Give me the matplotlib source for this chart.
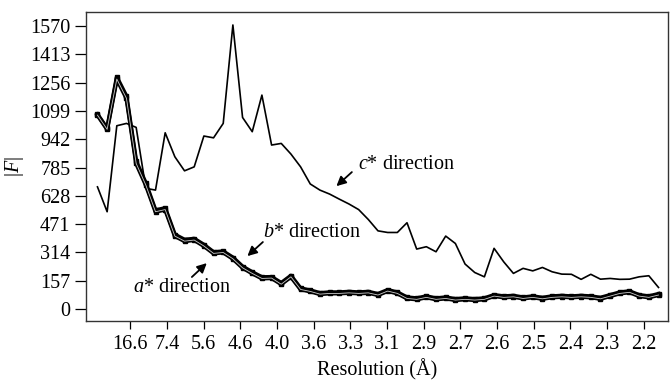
import numpy as np
import matplotlib
matplotlib.use('Agg')
import matplotlib.pyplot as plt

plt.rcParams['font.family'] = 'Liberation Serif'
plt.rcParams['mathtext.fontset'] = 'custom'
plt.rcParams['mathtext.rm'] = 'Liberation Serif'
plt.rcParams['mathtext.it'] = 'Liberation Serif:italic'

# |F| along the three reciprocal directions, one value per resolution shell
c_dir = [678, 540, 1017, 1030, 1008, 670, 660, 978, 845, 767,
         789, 960, 950, 1030, 1576, 1063, 984, 1187, 910, 919,
         860, 789, 694, 660, 638, 610, 583, 552, 497, 434,
         425, 425, 479, 333, 346, 318, 405, 364, 250, 203,
         179, 337, 262, 198, 226, 212, 231, 207, 194, 193,
         165, 193, 166, 170, 165, 166, 179, 185, 120]
a_dir = [1076, 997, 1276, 1169, 808, 688, 540, 552, 405, 377,
         383, 350, 309, 314, 279, 229, 198, 170, 172, 138,
         179, 109, 98, 83, 87, 87, 90, 87, 90, 78,
         100, 87, 59, 54, 65, 54, 59, 50, 54, 50,
         54, 72, 65, 68, 59, 65, 57, 65, 68, 65,
         68, 65, 57, 72, 87, 93, 72, 65, 78]
b_dir = [1080, 1002, 1286, 1180, 820, 698, 548, 560, 413, 385,
         390, 357, 316, 320, 286, 236, 205, 177, 178, 145,
         185, 115, 104, 89, 93, 93, 96, 93, 96, 84,
         106, 93, 65, 60, 71, 60, 65, 56, 60, 56,
         60, 78, 71, 74, 65, 71, 63, 71, 74, 71,
         74, 71, 63, 78, 93, 99, 78, 71, 84]
res_labels = ['16.6', '7.4', '5.6', '4.6', '4.0', '3.6', '3.3', '3.1',
              '2.9', '2.7', '2.6', '2.5', '2.4', '2.3', '2.2']
y_ticks = [0, 157, 314, 471, 628, 785, 942, 1099, 1256, 1413, 1570]

x = np.arange(len(c_dir))
fs = 14.5

fig = plt.figure(figsize=(6.70, 3.81), dpi=100)
ax = fig.add_axes([0.128, 0.1575, 0.869, 0.811])

ax.plot(x, c_dir, color='black', lw=1.2)
# a* and b* nearly coincide: thick black lines with a thin white core
ax.plot(x, b_dir, color='black', lw=3.0, marker='s', ms=3.5, mfc='black', mec='black')
ax.plot(x, a_dir, color='black', lw=3.0, marker='s', ms=3.5, mfc='black', mec='black')
ax.plot(x, a_dir, color='white', lw=0.6, alpha=0.8)

ax.set_xlim(-1.21, 58.98)
ax.set_ylim(-66, 1648)
ax.set_yticks(y_ticks)
ax.set_yticklabels([str(v) for v in y_ticks], fontsize=fs)
ax.set_xticks(3.41 + 3.79 * np.arange(len(res_labels)))
ax.set_xticklabels(res_labels, fontsize=fs)
ax.tick_params(axis='y', direction='out', length=8, width=0.9, pad=3)
ax.tick_params(axis='x', direction='out', length=6, width=0.9, pad=4)
for s in ax.spines.values():
    s.set_linewidth(1.0)
    s.set_color('#333333')

ax.set_xlabel('Resolution (Å)', fontsize=fs, labelpad=4)
ax.set_ylabel('$|F|$', fontsize=fs, labelpad=3)

arrow = dict(arrowstyle='-|>', color='black', lw=1.3, mutation_scale=14,
             shrinkA=0, shrinkB=0)
ax.text(26.9, 804, '$c$* direction', fontsize=fs, ha='left', va='center')
ax.annotate('', xy=(24.7, 682), xytext=(26.3, 760), arrowprops=arrow)
ax.text(17.1, 427, '$b$* direction', fontsize=fs, ha='left', va='center')
ax.annotate('', xy=(15.5, 294), xytext=(17.1, 372), arrowprops=arrow)
ax.text(3.65, 122, '$a$* direction', fontsize=fs, ha='left', va='center')
ax.annotate('', xy=(11.3, 255), xytext=(9.76, 178), arrowprops=arrow)

fig.savefig('out.png', dpi=100)
